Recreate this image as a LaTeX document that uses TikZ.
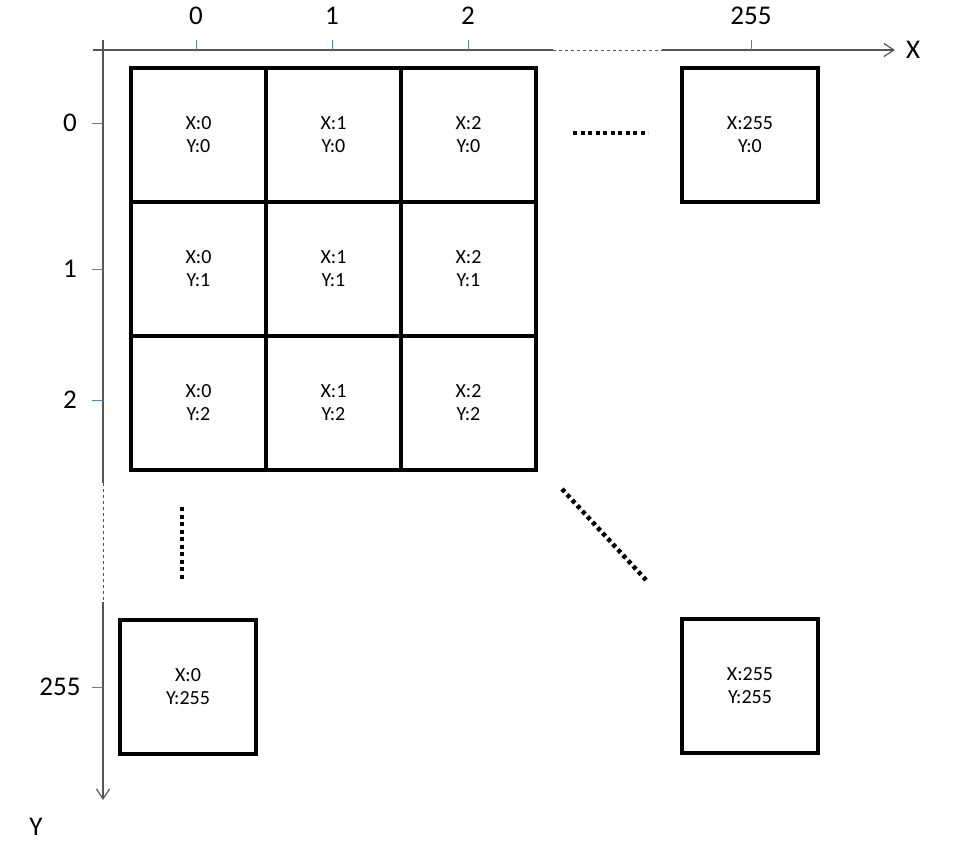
\documentclass[tikz,border=0pt]{standalone}
\usepackage{fontspec}
\setmainfont{Carlito}
\usetikzlibrary{arrows.meta}
\definecolor{tickblue}{RGB}{79,129,189}
\definecolor{axisgray}{RGB}{85,85,85}

\begin{document}
\begin{tikzpicture}[x=1pt,y=-1pt,
  celda/.style={draw=black,line width=4pt,minimum width=135pt,minimum height=134pt,inner sep=0pt,align=center,font=\fontsize{20}{23}\selectfont},
  eje/.style={draw=axisgray,line width=1.2pt},
  marca/.style={draw=tickblue,line width=1pt},
  etiqueta/.style={font=\fontsize{27}{30}\selectfont,inner sep=0pt},
  puntos/.style={line width=4.5pt,dash pattern=on 4pt off 3.5pt}]
  \useasboundingbox (0,0) rectangle (955,847);

  % Ejes
  \coordinate (xa) at (93,50);
  \coordinate (xb) at (553,50);
  \coordinate (xc) at (662,50);
  \coordinate (xe) at (895,50);
  \coordinate (ya) at (103,40);
  \coordinate (yb) at (103,483);
  \coordinate (yc) at (103,602);
  \coordinate (ye) at (103,800);
  \draw[eje] (xa) -- (xb);
  \draw[eje,line width=0.8pt,dashed] (xb) -- (xc);
  \draw[eje,-{Straight Barb[length=10pt,width=13pt]}] (xc) -- (xe);
  \draw[eje] (ya) -- (yb);
  \draw[eje,line width=0.8pt,dashed] (yb) -- (yc);
  \draw[eje,-{Straight Barb[length=10pt,width=13pt]}] (yc) -- (ye);
  \node[etiqueta] (ejex) at (913,50) {X};
  \node[etiqueta] (ejey) at (36,827) {Y};

  % Marcas
  \foreach \x/\t in {196/0, 332/1, 468/2, 751/255} {
    \draw[marca] (\x,40) -- (\x,50);
    \node[etiqueta] (ex\t) at (\x,16) {\t};
  }
  \foreach \y/\t/\p in {123/0/70, 269/1/70, 400/2/70, 687/255/60} {
    \draw[marca] (92,\y) -- (103,\y);
    \node[etiqueta] (ey\t) at (\p,\y) {\t};
  }

  % Celdas
  \foreach \c in {0,1,2}
    \foreach \r in {0,1,2}
      \node[celda] (c\c\r) at ({198.5+135*\c},{135+134*\r}) {X:\c\\Y:\r};
  \node[celda,minimum width=136pt] (c2550) at (750,135) {X:255\\Y:0};
  \node[celda,minimum width=136pt] (c0255) at (188,687) {X:0\\Y:255};
  \node[celda,minimum width=136pt] (c255255) at (750,686) {X:255\\Y:255};

  % Puntos suspensivos
  \coordinate (ha) at (573,133);
  \coordinate (hb) at (648,133);
  \coordinate (va) at (182,507);
  \coordinate (vb) at (182,580);
  \coordinate (da) at (562,489);
  \coordinate (db) at (646,580);
  \foreach \from/\to in {ha/hb, va/vb, da/db}
    \draw[puntos] (\from) -- (\to);
\end{tikzpicture}
\end{document}
